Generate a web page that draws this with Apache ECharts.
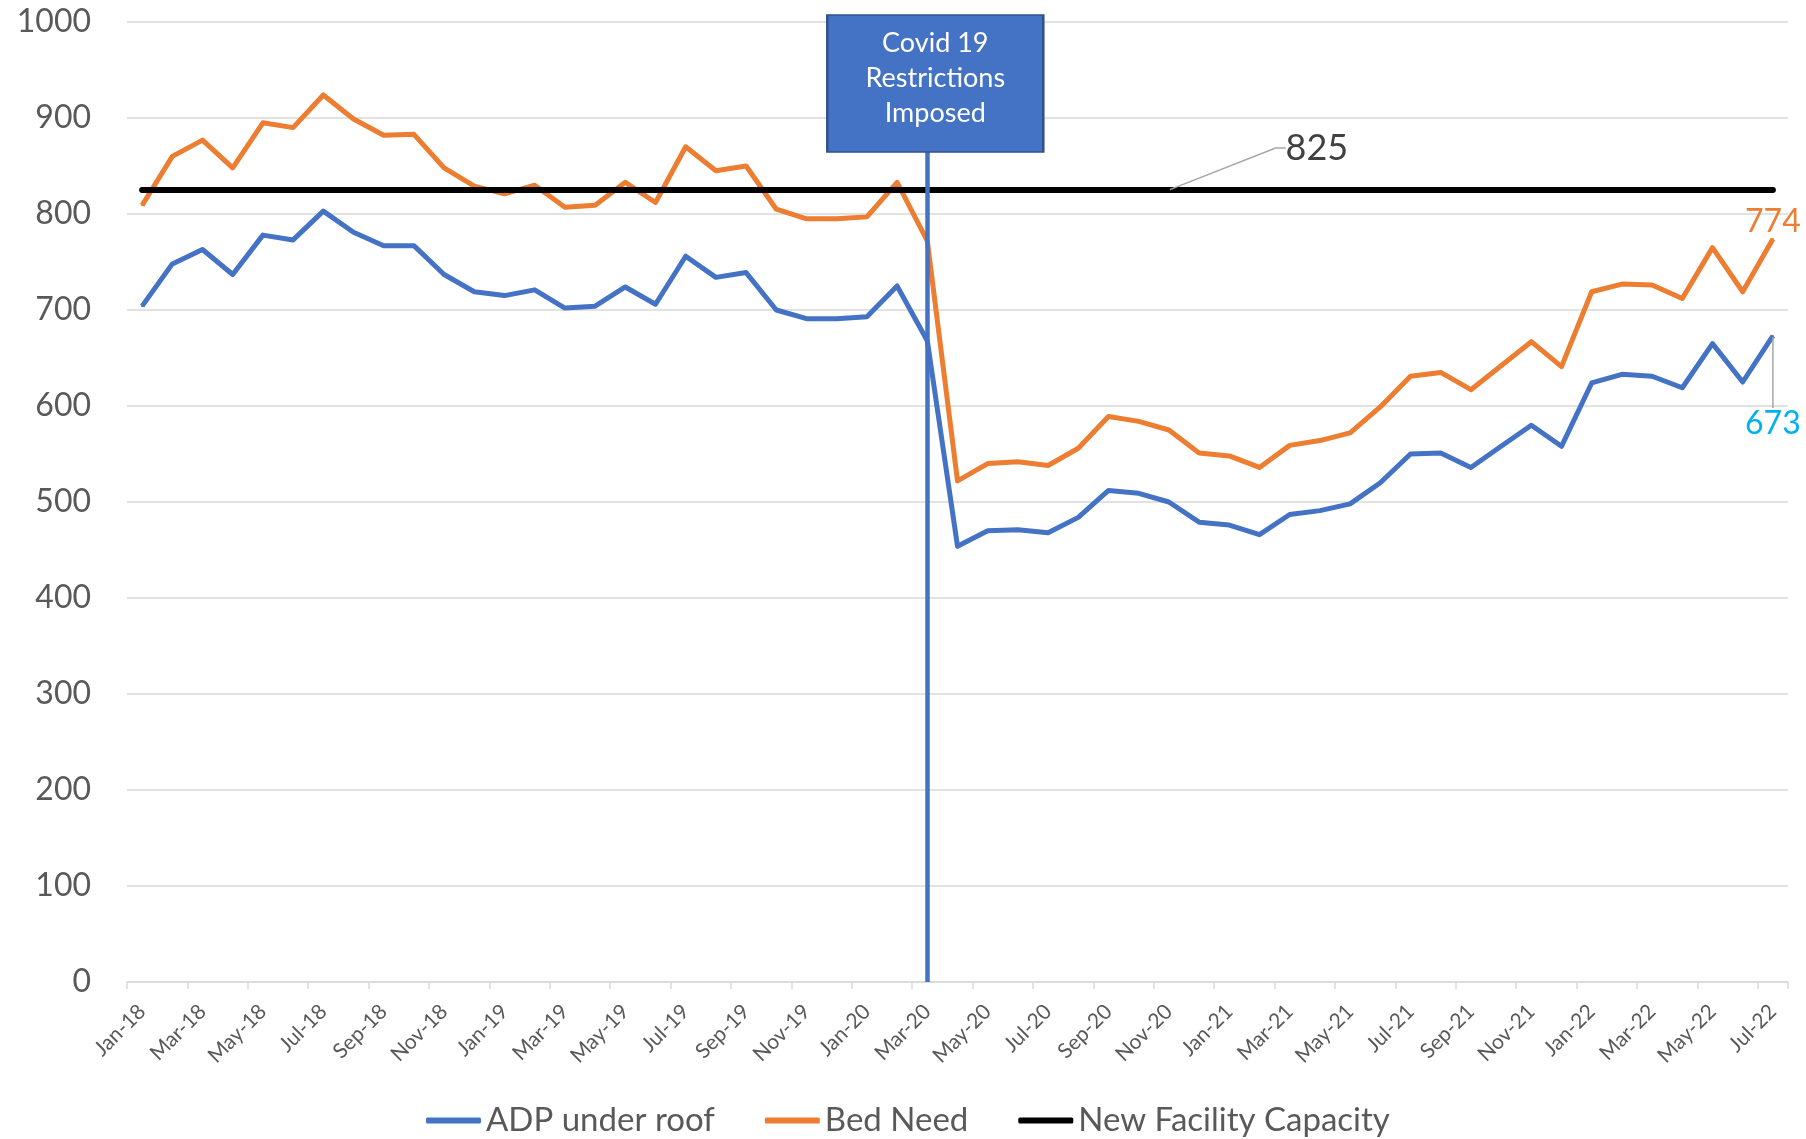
<!DOCTYPE html>
<html>
  <head>
    <meta charset="utf-8" />
    <title>ADP vs Bed Need</title>
    <script src="https://cdn.jsdelivr.net/npm/echarts@6/dist/echarts.min.js"></script>
    <style>
      * { margin: 0; padding: 0; }
      body { background: #fff; }
      #main { width: 1806px; height: 1139px; }
    </style>
  </head>
  <body>
    <div id="main"></div>
    <script>
      // months Jan-18 .. Jul-22
      const months = [
        "Jan-18","Feb-18","Mar-18","Apr-18","May-18","Jun-18","Jul-18","Aug-18","Sep-18","Oct-18","Nov-18","Dec-18",
        "Jan-19","Feb-19","Mar-19","Apr-19","May-19","Jun-19","Jul-19","Aug-19","Sep-19","Oct-19","Nov-19","Dec-19",
        "Jan-20","Feb-20","Mar-20","Apr-20","May-20","Jun-20","Jul-20","Aug-20","Sep-20","Oct-20","Nov-20","Dec-20",
        "Jan-21","Feb-21","Mar-21","Apr-21","May-21","Jun-21","Jul-21","Aug-21","Sep-21","Oct-21","Nov-21","Dec-21",
        "Jan-22","Feb-22","Mar-22","Apr-22","May-22","Jun-22","Jul-22"
      ];

      const adpUnderRoof = [
        704, 748, 763, 737, 778, 773, 803, 781, 767, 767, 737, 719,
        715, 721, 702, 704, 724, 706, 756, 734, 739, 700, 691, 691,
        693, 725, 668, 454, 470, 471, 468, 484, 512, 509, 500, 479,
        476, 466, 487, 491, 498, 520, 550, 551, 536, 558, 580, 558,
        624, 633, 631, 619, 665, 625, 673
      ];

      const bedNeed = [
        809, 860, 877, 848, 895, 890, 924, 899, 882, 883, 848, 829,
        821, 830, 807, 809, 833, 812, 870, 845, 850, 805, 795, 795,
        797, 833, 772, 522, 540, 542, 538, 556, 589, 584, 575, 551,
        548, 536, 559, 564, 572, 599, 631, 635, 617, 642, 667, 641,
        719, 727, 726, 712, 765, 719, 774
      ];

      const capacity = [
        825, 825, 825, 825, 825, 825, 825, 825, 825, 825, 825, 825,
        825, 825, 825, 825, 825, 825, 825, 825, 825, 825, 825, 825,
        825, 825, 825, 825, 825, 825, 825, 825, 825, 825, 825, 825,
        825, 825, 825, 825, 825, 825, 825, 825, 825, 825, 825, 825,
        825, 825, 825, 825, 825, 825, 825
      ];

      const yTicks = { min: 0, max: 1000, interval: 100 };
      const covidMonth = "Mar-20";
      const covidText = "Covid 19\nRestrictions\nImposed";
      const capacityLabelMonth = "Nov-20";

      const FONT = 'Lato, "Open Sans", sans-serif';
      const last = months.length - 1;

      // last-point labels
      let adpData = adpUnderRoof.map(function (v, i) {
        if (i !== last) return v;
        return {
          value: v,
          label: {
            show: true, position: "bottom", distance: 5,
            color: "#00B0F0", fontSize: 32, fontFamily: FONT
          },
          labelLine: { show: true, lineStyle: { color: "#a6a6a6", width: 1.5 } }
        };
      });
      let bedData = bedNeed.map(function (v, i) {
        if (i !== last) return v;
        return {
          value: v,
          label: {
            show: true, position: "top", distance: 0,
            color: "#ED7D31", fontSize: 32, fontFamily: FONT
          }
        };
      });
      let capIdx = months.indexOf(capacityLabelMonth);
      let capData = capacity.map(function (v, i) {
        if (i !== capIdx) return v;
        return {
          value: v,
          label: {
            show: true, position: "inside",
            color: "#404040", fontSize: 36, fontFamily: FONT
          },
          labelLine: { show: true, length2: 10, lineStyle: { color: "#a6a6a6", width: 1.5 } }
        };
      });

      let myChart = echarts.init(document.getElementById("main"));

      let option = {
        animation: false,
        grid: { left: 127, right: 18, top: 22, bottom: 157 },
        legend: {
          top: 1099,
          left: 421,
          icon: "roundRect",
          itemWidth: 55,
          itemHeight: 6,
          itemGap: 50,
          textStyle: { color: "#595959", fontSize: 33, fontFamily: FONT },
          data: ["ADP under roof", "Bed Need", "New Facility Capacity"]
        },
        xAxis: {
          type: "category",
          data: months,
          boundaryGap: true,
          axisLine: { show: true, lineStyle: { color: "#d9d9d9", width: 1.5 } },
          axisTick: { show: true, interval: 1, length: 7, lineStyle: { color: "#d9d9d9", width: 1.5 } },
          axisLabel: {
            interval: 1, rotate: 45, margin: 26,
            color: "#595959", fontSize: 21, fontFamily: FONT
          },
          splitLine: { show: false }
        },
        yAxis: {
          type: "value",
          min: yTicks.min,
          max: yTicks.max,
          interval: yTicks.interval,
          axisLine: { show: false },
          axisTick: { show: false },
          axisLabel: {
            margin: 36, color: "#595959", fontSize: 32, fontFamily: FONT,
            formatter: function (v) { return String(v); }
          },
          splitLine: { lineStyle: { color: "#d9d9d9", width: 1.5 } }
        },
        series: [
          {
            name: "ADP under roof",
            type: "line",
            data: adpData,
            symbol: "circle",
            symbolSize: 2,
            itemStyle: { color: "#4472C4" },
            lineStyle: { color: "#4472C4", width: 5, join: "round" },
            labelLayout: function (p) {
              return p.dataIndex === last ? { dy: 66 } : {};
            },
            emphasis: { disabled: true },
            markLine: {
              silent: true,
              symbol: "none",
              label: { show: false },
              lineStyle: { color: "#4472C4", width: 4.5, type: "solid" },
              data: [[{ coord: [covidMonth, 0] }, { coord: [covidMonth, 865] }]]
            },
            markPoint: {
              silent: true,
              symbol: "rect",
              symbolSize: [216, 137],
              symbolOffset: [8, 0],
              itemStyle: { color: "#4472C4", borderColor: "#2F528F", borderWidth: 2 },
              label: {
                show: true, position: "inside", formatter: covidText, offset: [0, -5],
                color: "#ffffff", fontSize: 27, lineHeight: 35, fontFamily: FONT
              },
              data: [{ coord: [covidMonth, 936] }]
            }
          },
          {
            name: "Bed Need",
            type: "line",
            data: bedData,
            symbol: "circle",
            symbolSize: 2,
            itemStyle: { color: "#ED7D31" },
            lineStyle: { color: "#ED7D31", width: 5, join: "round" },
            emphasis: { disabled: true }
          },
          {
            name: "New Facility Capacity",
            type: "line",
            data: capData,
            symbol: "circle",
            symbolSize: 2,
            itemStyle: { color: "#000000" },
            lineStyle: { color: "#000000", width: 6, cap: "round" },
            labelLayout: function (p) {
              return p.dataIndex === capIdx ? { dx: 148, dy: -42 } : {};
            },
            emphasis: { disabled: true }
          }
        ]
      };

      myChart.setOption(option);
    </script>
  </body>
</html>
